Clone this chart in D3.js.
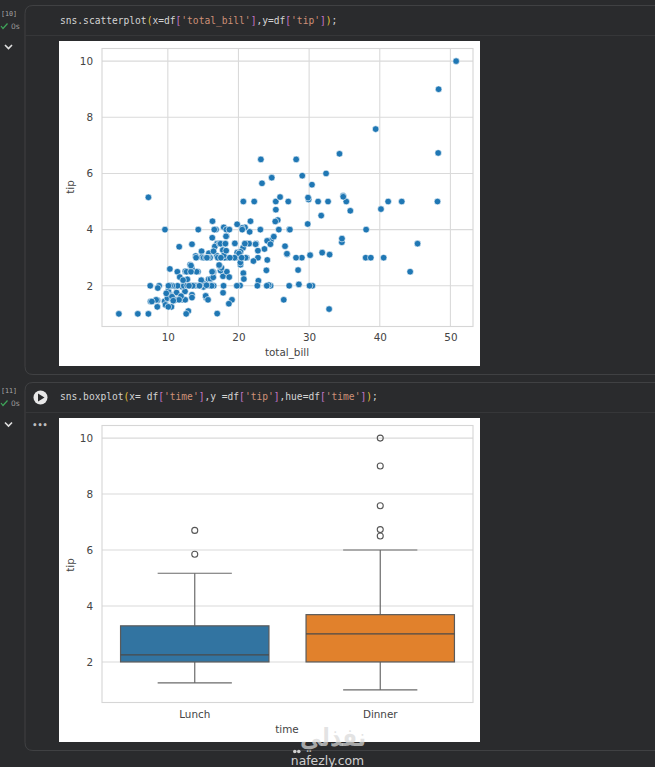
<!DOCTYPE html>
<html><head><meta charset="utf-8">
<script src="https://cdn.jsdelivr.net/npm/d3@7"></script>
<style>
html,body{margin:0;padding:0;background:#2a2b2d;overflow:hidden}
svg{display:block}
text{font-family:"DejaVu Sans",sans-serif}
.mono{font-family:"DejaVu Sans Mono",monospace;font-size:9.6px;fill:#d4d4d4}
.axis text{font-size:10.4px;fill:#444}
.axis path,.axis line{stroke:#d6d6d6}
.lab{font-size:10.4px;fill:#444;text-anchor:middle}
</style></head><body>
<svg id="c" width="655" height="767"></svg>
<script>
const totalBill=[16.99,10.34,21.01,23.68,24.59,25.29,8.77,26.88,15.04,14.78,10.27,35.26,15.42,18.43,14.83,21.58,10.33,16.29,16.97,20.65,17.92,20.29,15.77,39.42,19.82,17.81,13.37,12.69,21.7,19.65,9.55,18.35,15.06,20.69,17.78,24.06,16.31,16.93,18.69,31.27,16.04,17.46,13.94,9.68,30.4,18.29,22.23,32.4,28.55,18.04,12.54,10.29,34.81,9.94,25.56,19.49,38.01,26.41,11.24,48.27,20.29,13.81,11.02,18.29,17.59,20.08,16.45,3.07,20.23,15.01,12.02,17.07,26.86,25.28,14.73,10.51,17.92,27.2,22.76,17.29,19.44,16.66,10.07,32.68,15.98,34.83,13.03,18.28,24.71,21.16,28.97,22.49,5.75,16.32,22.75,40.17,27.28,12.03,21.01,12.46,11.35,15.38,44.3,22.42,20.92,15.36,20.49,25.21,18.24,14.31,14,7.25,38.07,23.95,25.71,17.31,29.93,10.65,12.43,24.08,11.69,13.42,14.26,15.95,12.48,29.8,8.52,14.52,11.38,22.82,19.08,20.27,11.17,12.26,18.26,8.51,10.33,14.15,16,13.16,17.47,34.3,41.19,27.05,16.43,8.35,18.64,11.87,9.78,7.51,14.07,13.13,17.26,24.55,19.77,29.85,48.17,25,13.39,16.49,21.5,12.66,16.21,13.81,17.51,24.52,20.76,31.71,10.59,10.63,50.81,15.81,7.25,31.85,16.82,32.9,17.89,14.48,9.6,34.63,34.65,23.33,45.35,23.17,40.55,20.69,20.9,30.46,18.15,23.1,15.69,19.81,28.44,15.48,16.58,7.56,10.34,43.11,13,13.51,18.71,12.74,13,16.4,20.53,16.47,26.59,38.73,24.27,12.76,30.06,25.89,48.33,13.27,28.17,12.9,28.15,11.59,7.74,30.14,12.16,13.42,8.58,15.98,13.42,16.27,10.09,20.45,13.28,22.12,24.01,15.69,11.61,10.77,15.53,10.07,12.6,32.83,35.83,29.03,27.18,22.67,17.82,18.78];
const tipValues=[1.01,1.66,3.5,3.31,3.61,4.71,2,3.12,1.96,3.23,1.71,5,1.57,3,3.02,3.92,1.67,3.71,3.5,3.35,4.08,2.75,2.23,7.58,3.18,2.34,2,2,4.3,3,1.45,2.5,3,2.45,3.27,3.6,2,3.07,2.31,5,2.24,2.54,3.06,1.32,5.6,3,5,6,2.05,3,2.5,2.6,5.2,1.56,4.34,3.51,3,1.5,1.76,6.73,3.21,2,1.98,3.76,2.64,3.15,2.47,1,2.01,2.09,1.97,3,3.14,5,2.2,1.25,3.08,4,3,2.71,3,3.4,1.83,5,2.03,5.17,2,4,5.85,3,3,3.5,1,4.3,3.25,4.73,4,1.5,3,1.5,2.5,3,2.5,3.48,4.08,1.64,4.06,4.29,3.76,4,3,1,4,2.55,4,3.5,5.07,1.5,1.8,2.92,2.31,1.68,2.5,2,2.52,4.2,1.48,2,2,2.18,1.5,2.83,1.5,2,3.25,1.25,2,2,2,2.75,3.5,6.7,5,5,2.3,1.5,1.36,1.63,1.73,2,2.5,2,2.74,2,2,5.14,5,3.75,2.61,2,3.5,2.5,2,2,3,3.48,2.24,4.5,1.61,2,10,3.16,5.15,3.18,4,3.11,2,2,4,3.55,3.68,5.65,3.5,6.5,3,5,3.5,2,3.5,4,1.5,4.19,2.56,2.02,4,1.44,2,5,2,2,4,2.01,2,2.5,4,3.23,3.41,3,2.03,2.23,2,5.16,9,2.5,6.5,1.1,3,1.5,1.44,3.09,2.2,3.48,1.92,3,1.58,2.5,2,3,2.72,2.88,2,3,3.39,1.47,3,1.25,1,1.17,4.67,5.92,2,2,1.75,3];
const xTicks=[10,20,30,40,50];
const yTicks=[2,4,6,8,10];
const boxCategories=["Lunch","Dinner"];
const boxColors=["#3274a1","#e1812c"];
const q1Values=[2,2];
const medianValues=[2.25,3];
const q3Values=[3.29,3.69];
const whiskerLow=[1.25,1];
const whiskerHigh=[5.17,6];
const outlierValues=[[5.85,6.7],[6.5,6.73,7.58,9,10]];

const svg=d3.select("#c");
const BG="#2a2b2d",LINE="#404143";

/* notebook chrome */
svg.append("rect").attr("width",655).attr("height",767).attr("fill",BG);
function cell(top,bottom,divider){
  svg.append("path").attr("fill","none").attr("stroke",LINE)
    .attr("d",`M655 ${top}H33Q25 ${top} 25 ${top+8}V${bottom-8}Q25 ${bottom} 33 ${bottom}H655`);
  svg.append("line").attr("x1",25).attr("x2",655).attr("y1",divider).attr("y2",divider).attr("stroke","#363739");
}
cell(5.5,374.5,35.5);
cell(382.5,750.5,412.5);
function code(y,parts){
  const t=svg.append("text").attr("class","mono").attr("x",60).attr("y",y);
  parts.forEach(([s,c])=>{const p=t.append("tspan").attr("xml:space","preserve").text(s);if(c)p.style("fill",c);});
}
const GOLD="#e6c23c",PUR="#c678c8",STR="#ce9178";
code(23.5,[["sns.scatterplot"],["(",GOLD],["x=df"],["[",PUR],["'total_bill'",STR],["]",PUR],[",y=df"],["[",PUR],["'tip'",STR],["]",PUR],[")",GOLD],[";"]]);
code(400,[["sns.boxplot"],["(",GOLD],["x= df"],["[",PUR],["'time'",STR],["]",PUR],[",y =df"],["[",PUR],["'tip'",STR],["]",PUR],[",hue=df"],["[",PUR],["'time'",STR],["]",PUR],[")",GOLD],[";"]]);
function gutter(label,y,chev){
  svg.append("text").attr("x",1).attr("y",y).attr("class","mono").style("font-size","6.7px").style("fill","#a8a8a8").text(label);
  svg.append("path").attr("d",`M1 ${y+10}l2 2.5l4.5 -5`).attr("fill","none").attr("stroke","#3fa75a").attr("stroke-width",1.2);
  svg.append("text").attr("x",11).attr("y",y+13).style("font-size","7.5px").attr("fill","#9a9a9a").text("0s");
  svg.append("path").attr("d",`M5 ${chev-2}l3.5 3.5l3.5 -3.5`).attr("fill","none").attr("stroke","#e0e0e0").attr("stroke-width",1.6);
}
gutter("[10]",16,47);
gutter("[11]",393,424.5);
svg.append("circle").attr("cx",40.5).attr("cy",397.5).attr("r",7).attr("fill","#e8e8e8");
svg.append("path").attr("d","M38 393.5V401.5L44.5 397.5Z").attr("fill",BG);
svg.append("text").attr("x",40).attr("y",428).attr("text-anchor","middle").style("font-size","8px").style("font-weight","bold").attr("fill","#bdbdbd").text("•••");

/* panels */
function panel(py,ph){svg.append("rect").attr("x",59).attr("y",py).attr("width",421).attr("height",ph).attr("fill","#fff");}
panel(41,325);
panel(418,324);

const L=102,R=473;
function frame(g,T,B){
  g.append("rect").attr("x",L).attr("y",T).attr("width",R-L).attr("height",B-T).attr("fill","none").attr("stroke","#d6d6d6").attr("stroke-width",1.1);
}
function yAxisGrid(y){
  const a=svg.append("g").attr("class","axis").attr("transform",`translate(${L},0)`)
    .call(d3.axisLeft(y).tickValues(yTicks).tickSize(0).tickPadding(9));
  a.select(".domain").remove();
  svg.append("g").selectAll("line").data(yTicks).join("line")
    .attr("x1",L).attr("x2",R).attr("y1",d=>y(d)).attr("y2",d=>y(d)).attr("stroke","#dadada").attr("stroke-width",1.1);
}

/* scatter */
const T1=48.5,B1=326.5;
const x=d3.scaleLinear().domain([0.683,53.197]).range([L,R]);
const y1=d3.scaleLinear().domain([0.55,10.45]).range([B1,T1]);
yAxisGrid(y1);
svg.append("g").selectAll("line").data(xTicks).join("line")
  .attr("x1",d=>x(d)).attr("x2",d=>x(d)).attr("y1",T1).attr("y2",B1).attr("stroke","#dadada").attr("stroke-width",1.1);
frame(svg,T1,B1);
const xa=svg.append("g").attr("class","axis").attr("transform",`translate(0,${B1})`)
  .call(d3.axisBottom(x).tickValues(xTicks).tickSize(0).tickPadding(7));
xa.select(".domain").remove();
svg.append("g").selectAll("circle").data(totalBill.map((b,i)=>[b,tipValues[i]])).join("circle")
  .attr("cx",d=>x(d[0])).attr("cy",d=>y1(d[1])).attr("r",3.3)
  .attr("fill","#1f77b4").attr("stroke","#fff").attr("stroke-width",0.6);
svg.append("text").attr("class","lab").attr("x",287).attr("y",356).text("total_bill");
svg.append("text").attr("class","lab").attr("transform","translate(74,187) rotate(-90)").text("tip");

/* box plot */
const T2=425.5,B2=702.5;
const bx=d3.scaleBand().domain(boxCategories).range([L,R]);
const y2=d3.scaleLinear().domain([0.55,10.45]).range([B2,T2]);
yAxisGrid(y2);
frame(svg,T2,B2);
const bxa=svg.append("g").attr("class","axis").attr("transform",`translate(0,${B2})`)
  .call(d3.axisBottom(bx).tickSize(0).tickPadding(8));
bxa.select(".domain").remove();
const bw=bx.bandwidth()*0.8,cap=bx.bandwidth()*0.4,STROKE="#5a5a5a";
boxCategories.forEach((c,i)=>{
  const cx=bx(c)+bx.bandwidth()/2;
  const g=svg.append("g");
  const seg=(x1,x2,a,b,col)=>g.append("line").attr("x1",x1).attr("x2",x2).attr("y1",a).attr("y2",b).attr("stroke",col||"#6a6a6a").attr("stroke-width",1.2);
  seg(cx,cx,y2(whiskerLow[i]),y2(q1Values[i]));
  seg(cx,cx,y2(q3Values[i]),y2(whiskerHigh[i]));
  seg(cx-cap/2,cx+cap/2,y2(whiskerLow[i]),y2(whiskerLow[i]));
  seg(cx-cap/2,cx+cap/2,y2(whiskerHigh[i]),y2(whiskerHigh[i]));
  g.append("rect").attr("x",cx-bw/2).attr("width",bw).attr("y",y2(q3Values[i])).attr("height",y2(q1Values[i])-y2(q3Values[i]))
    .attr("fill",boxColors[i]).attr("stroke",STROKE).attr("stroke-width",1.2);
  seg(cx-bw/2,cx+bw/2,y2(medianValues[i]),y2(medianValues[i]),"#4a4a4a");
  g.selectAll("circle").data(outlierValues[i]).join("circle")
    .attr("cx",cx).attr("cy",d=>y2(d)).attr("r",3).attr("fill","none").attr("stroke","#555").attr("stroke-width",1.1);
});
svg.append("text").attr("class","lab").attr("x",287).attr("y",733).text("time");
svg.append("text").attr("class","lab").attr("transform","translate(74,565) rotate(-90)").text("tip");

/* watermark */
svg.append("text").attr("x",333).attr("y",746).attr("text-anchor","middle").attr("direction","rtl")
  .style("font-size","25px").style("font-weight","bold").attr("fill","#d9d9d9").attr("fill-opacity",0.72)
  .attr("textLength",66).attr("lengthAdjust","spacingAndGlyphs").text("نفذلي");
svg.selectAll("circle.wm").data([294.8,298.8]).join("circle").attr("class","wm")
  .attr("cx",d=>d).attr("cy",751.5).attr("r",1.8).attr("fill","#d0d0d0");
svg.append("text").attr("x",327.5).attr("y",764.5).attr("text-anchor","middle")
  .style("font-size","12.4px").attr("fill","#d0d0d0").text("nafezly.com");
</script></body></html>
